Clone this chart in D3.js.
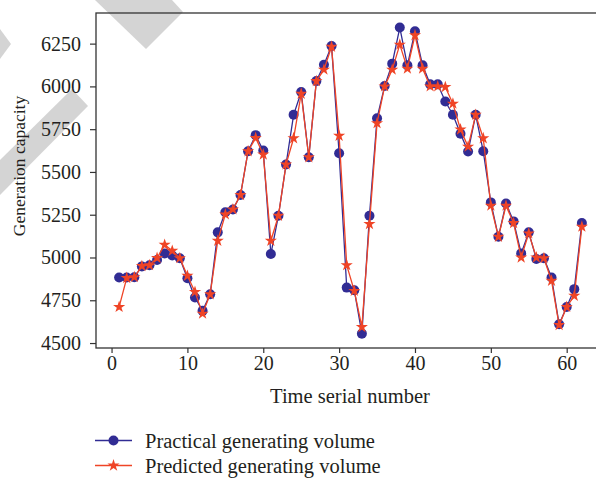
<!DOCTYPE html>
<html>
<head>
<meta charset="utf-8">
<script src="https://cdn.jsdelivr.net/npm/d3@7"></script>
<style>
  body { margin: 0; background: #fff; }
  svg { display: block; font-family: "Liberation Serif", "DejaVu Serif", serif; }
</style>
</head>
<body>
<svg width="596" height="479"></svg>
<script>
        // values, index = time serial number 1..62
        const serial = d3.range(1, 63)
        const practical = [4883, 4883, 4885, 4948, 4955, 4985, 5024, 5012, 4996, 4879,
                           4766, 4688, 4785, 5147, 5264, 5281, 5365, 5621, 5715, 5625,
                           5020, 5244, 5543, 5834, 5967, 5586, 6031, 6127, 6236, 5609,
                           4824, 4809, 4555, 5244, 5814, 6002, 6133, 6344, 6123, 6322,
                           6123, 6012, 6012, 5912, 5834, 5723, 5619, 5834, 5621, 5322,
                           5121, 5316, 5211, 5024, 5147, 4991, 4996, 4883, 4610, 4711,
                           4815, 5202]
        const predicted = [4711, 4880, 4885, 4950, 4955, 4997, 5074, 5039, 4996, 4893,
                           4799, 4672, 4785, 5098, 5252, 5281, 5365, 5621, 5699, 5602,
                           5098, 5244, 5543, 5697, 5957, 5586, 6031, 6098, 6232, 5711,
                           4955, 4805, 4594, 5196, 5785, 6000, 6098, 6244, 6104, 6299,
                           6104, 6000, 6000, 5996, 5899, 5748, 5648, 5834, 5697, 5303,
                           5121, 5303, 5201, 5000, 5141, 5000, 4996, 4864, 4605, 4711,
                           4776, 5180]
        const xTicks = [0, 10, 20, 30, 40, 50, 60]
        const yTicks = [4500, 4750, 5000, 5250, 5500, 5750, 6000, 6250]
        const seriesNames = ['Practical generating volume', 'Predicted generating volume']

        const blue = '#312c94'
        const red = '#ef4426'
        const ink = '#231f20'
        const serif = '"Liberation Serif", "DejaVu Serif", serif'
        const plot = {left: 96, top: 13, right: 605, bottom: 348}

        const svg = d3.select('svg')

        // grey watermark pieces in the corner
        const marks = [
            [[0, 29], [11, 44], [0, 59]],
            [[0, 160], [72, 89], [88, 106], [0, 195]],
            [[95, 0], [172, 0], [183, 12], [146, 49]]
        ]
        svg.selectAll('.wm').data(marks).enter()
            .append('polygon')
            .attr('class', 'wm')
            .attr('points', d => d.map(p => p.join(',')).join(' '))
            .attr('fill', '#d4d4d4')

        const x = d3.scaleLinear([-2.05, 65.05], [plot.left, plot.right])
        const y = d3.scaleLinear([4471, 6429], [plot.bottom, plot.top])

        // spines
        svg.append('rect')
            .attr('x', plot.left).attr('y', plot.top)
            .attr('width', plot.right - plot.left).attr('height', plot.bottom - plot.top)
            .attr('fill', 'none').attr('stroke', '#333').attr('stroke-width', 1.3)

        function styleAxis(g) {
            g.attr('font-family', serif).attr('font-size', 20)
            g.select('.domain').remove()
            g.selectAll('.tick line').attr('stroke', '#333').attr('stroke-width', 1.2)
            g.selectAll('.tick text').attr('fill', ink)
        }

        const xAxis = d3.axisBottom(x).tickValues(xTicks).tickFormat(d3.format('d')).tickSize(5).tickPadding(3)
        svg.append('g')
            .attr('transform', `translate(0,${plot.bottom})`)
            .call(xAxis)
            .call(styleAxis)

        const yAxis = d3.axisLeft(y).tickValues(yTicks).tickFormat(d3.format('d')).tickSize(6).tickPadding(9)
        svg.append('g')
            .attr('transform', `translate(${plot.left},0)`)
            .call(yAxis)
            .call(styleAxis)

        svg.append('text')
            .attr('x', 350).attr('y', 403)
            .attr('text-anchor', 'middle')
            .attr('font-size', '20.5px')
            .attr('fill', ink)
            .text('Time serial number')

        svg.append('text')
            .attr('transform', 'translate(25,166) rotate(-90)')
            .attr('text-anchor', 'middle')
            .attr('font-size', '17.5px')
            .attr('fill', ink)
            .text('Generation capacity')

        const line = d3.line()
            .x((d, i) => x(serial[i]))
            .y(d => y(d))

        const star = d3.symbol().type(d3.symbolStar).size(46)

        // practical series
        svg.append('path')
            .datum(practical)
            .attr('d', line)
            .attr('fill', 'none').attr('stroke', blue).attr('stroke-width', 1.3)
        svg.selectAll('.dot').data(practical).enter()
            .append('circle')
            .attr('class', 'dot')
            .attr('cx', (d, i) => x(serial[i]))
            .attr('cy', d => y(d))
            .attr('r', 5)
            .attr('fill', blue)

        // predicted series
        svg.append('path')
            .datum(predicted)
            .attr('d', line)
            .attr('fill', 'none').attr('stroke', red).attr('stroke-width', 1.3)
        svg.selectAll('.star').data(predicted).enter()
            .append('path')
            .attr('class', 'star')
            .attr('d', star)
            .attr('transform', (d, i) => `translate(${x(serial[i])},${y(d)})`)
            .attr('fill', red)

        // legend
        const legend = svg.append('g')
        const rows = [
            {name: seriesNames[0], color: blue, y: 440.5, mark: 'circle'},
            {name: seriesNames[1], color: red, y: 465.5, mark: 'star'}
        ]
        rows.forEach(r => {
            legend.append('line')
                .attr('x1', 95).attr('x2', 132).attr('y1', r.y).attr('y2', r.y)
                .attr('stroke', r.color).attr('stroke-width', 1.3)
            if (r.mark == 'circle') {
                legend.append('circle').attr('cx', 113.5).attr('cy', r.y).attr('r', 5).attr('fill', r.color)
            } else {
                legend.append('path').attr('d', star)
                    .attr('transform', `translate(113.5,${r.y})`).attr('fill', r.color)
            }
            legend.append('text')
                .attr('x', 145).attr('y', r.y + 7)
                .attr('font-size', '20.5px')
                .attr('fill', ink)
                .text(r.name)
        })
</script>
</body>
</html>
